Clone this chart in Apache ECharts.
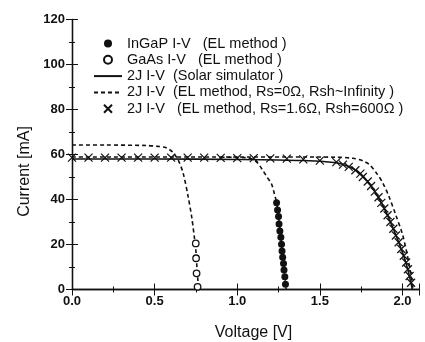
<!DOCTYPE html>
<html>
<head>
<meta charset="utf-8">
<script src="https://cdn.jsdelivr.net/npm/echarts@6/dist/echarts.min.js"></script>
<style>
html, body { margin: 0; padding: 0; background: #fff; }
#chart { width: 425px; height: 342px; }
</style>
</head>
<body>
<div id="chart"></div>
<script>
// InGaP subcell I-V from EL (filled dots)
var ingapV = [1.238, 1.244, 1.250, 1.253, 1.258, 1.264, 1.268, 1.271, 1.275, 1.280, 1.283, 1.288, 1.292];
var ingapI = [38.6, 35.3, 32.4, 29.1, 26.0, 23.2, 20.1, 17.1, 14.3, 11.6, 8.7, 5.7, 2.3];

// GaAs subcell I-V from EL (open circles)
var gaasV = [0.749, 0.751, 0.754, 0.760];
var gaasI = [20.5, 13.9, 7.2, 1.2];

// dashed subcell curves
var gaasElV = [0, 0.2, 0.45, 0.52, 0.57, 0.61, 0.643, 0.673, 0.703, 0.724, 0.74, 0.75, 0.756, 0.762, 0.768];
var gaasElI = [64.2, 64.2, 64.0, 63.6, 63.0, 61.0, 57.5, 51.6, 41.2, 32.4, 23.5, 17.0, 10.0, 4.0, 0];
var ingapElV = [0.9, 1.05, 1.09, 1.12, 1.15, 1.18, 1.207, 1.225, 1.238, 1.250, 1.264, 1.275, 1.288, 1.296];
var ingapElI = [58.8, 58.6, 58.0, 56.5, 53.5, 50.0, 47.0, 42.5, 38.6, 32.4, 23.2, 14.3, 5.7, 0];

// 2J solar simulator (solid)
var solidV = [0, 0.5, 1.0, 1.4, 1.6, 1.65, 1.7, 1.75, 1.8, 1.85, 1.9, 1.95, 2.0, 2.03, 2.06];
var solidI = [58.0, 58.0, 57.8, 57.3, 56.3, 55.3, 53.8, 51.2, 47.0, 41.5, 34.5, 26.0, 16.5, 9.5, 0];

// 2J EL, Rs=0, Rsh~inf (dashed)
var elV = [0, 1.0, 1.3, 1.6, 1.7, 1.76, 1.8, 1.84, 1.88, 1.92, 1.96, 2.0, 2.03, 2.05, 2.065];
var elI = [58.9, 58.9, 58.9, 58.8, 58.3, 57.2, 55.5, 52.0, 47.5, 41.0, 33.0, 24.5, 15.0, 7.0, 0];

// 2J EL, Rs=1.6, Rsh=600 (crosses)
var fitV = [0, 0.1, 0.2, 0.3, 0.4, 0.5, 0.6, 0.7, 0.8, 0.9, 1.0, 1.1, 1.2, 1.3, 1.4, 1.5, 1.6,
    1.64, 1.675, 1.715, 1.745, 1.76, 1.79, 1.81, 1.833, 1.855, 1.872, 1.89, 1.91, 1.927, 1.945,
    1.96, 1.977, 1.993, 2.008, 2.022, 2.033, 2.043, 2.052];
var fitI = [58.6, 58.6, 58.6, 58.6, 58.6, 58.6, 58.6, 58.6, 58.6, 58.5, 58.4, 58.4, 58.3, 58.2, 57.8, 57.3, 56.6,
    55.5, 54.5, 53.0, 51.5, 50.0, 48.0, 46.0, 43.5, 41.0, 38.5, 36.0, 33.0, 30.0, 27.0,
    24.0, 21.0, 18.0, 15.0, 12.0, 9.0, 6.0, 3.0];

var names = [
    'InGaP I-V   (EL method )',
    'GaAs I-V   (EL method )',
    '2J I-V  (Solar simulator )',
    '2J I-V  (EL method, Rs=0\u03a9, Rsh~Infinity )',
    '2J I-V   (EL method, Rs=1.6\u03a9, Rsh=600\u03a9 )'
];

var zip = function (xs, ys) {
    var out = [];
    for (var i = 0; i < xs.length; i++) {
        out.push([xs[i], ys[i]]);
    }
    return out;
};

var ink = '#111';
var crossPath = 'path://M0,0L10,10M10,0L0,10';
var dashed = { color: ink, width: 1.6, type: [4, 3] };
// line series: keep the legend icon a bare line
var noDot = { color: 'transparent', borderWidth: 0 };

var chart = echarts.init(document.getElementById('chart'));
var option = {
    backgroundColor: '#fff',
    animation: false,
    textStyle: { fontFamily: 'Liberation Sans, Arial, sans-serif', color: ink },
    grid: { left: 72, right: 6, top: 19.5, bottom: 52.5, outerBoundsMode: 'none', containLabel: false },
    legend: {
        orient: 'vertical',
        left: 93,
        top: 36,
        padding: 0,
        itemWidth: 28,
        itemHeight: 8,
        itemGap: 1.3,
        data: names,
        textStyle: { fontSize: 14.5, color: ink, lineHeight: 14 }
    },
    xAxis: [{
        type: 'value',
        min: 0, max: 2.1, interval: 0.5,
        name: 'Voltage [V]',
        nameLocation: 'middle',
        nameGap: 35,
        nameTextStyle: { fontSize: 16, color: ink, padding: [0, 0, 0, 16] },
        axisLine: { lineStyle: { color: ink, width: 1.3 } },
        axisTick: { inside: true, length: 6, lineStyle: { color: ink } },
        minorTick: { show: true, splitNumber: 2, length: 3, lineStyle: { color: ink } },
        splitLine: { show: false },
        axisLabel: {
            margin: 5, fontSize: 13, fontWeight: 'bold', color: ink, showMaxLabel: false,
            formatter: function (v) { return v.toFixed(1); }
        }
    }, {
        type: 'value',
        position: 'top',
        min: 0, max: 2.1, interval: 0.5,
        axisLine: { lineStyle: { color: ink, width: 1.3 } },
        axisTick: { inside: true, length: 6, lineStyle: { color: ink } },
        minorTick: { show: true, splitNumber: 2, length: 3, lineStyle: { color: ink } },
        splitLine: { show: false },
        axisLabel: { show: false }
    }],
    yAxis: [{
        type: 'value',
        min: 0, max: 120, interval: 20,
        name: 'Current [mA]',
        nameLocation: 'middle',
        nameGap: 39,
        nameTextStyle: { fontSize: 16, color: ink, padding: [0, 34, 0, 0] },
        axisLine: { show: true, lineStyle: { color: ink, width: 1.3 } },
        axisTick: { show: true, inside: true, length: 6, lineStyle: { color: ink } },
        minorTick: { show: true, splitNumber: 2, length: 3, lineStyle: { color: ink } },
        splitLine: { show: false },
        axisLabel: { margin: 7, fontSize: 13, fontWeight: 'bold', color: ink }
    }, {
        type: 'value',
        position: 'right',
        min: 0, max: 120, interval: 20,
        axisLine: { show: true, lineStyle: { color: ink, width: 1.3 } },
        axisTick: { show: true, inside: true, length: 6, lineStyle: { color: ink } },
        minorTick: { show: true, splitNumber: 2, length: 3, lineStyle: { color: ink } },
        splitLine: { show: false },
        axisLabel: { show: false }
    }],
    series: [{
        name: 'gaasEl',
        type: 'line',
        smooth: 0.3,
        symbol: 'none',
        lineStyle: dashed,
        data: zip(gaasElV, gaasElI)
    }, {
        name: 'ingapEl',
        type: 'line',
        smooth: 0.3,
        symbol: 'none',
        lineStyle: dashed,
        data: zip(ingapElV, ingapElI)
    }, {
        name: names[2],
        type: 'line',
        smooth: 0.3,
        symbol: 'circle',
        showSymbol: false,
        itemStyle: noDot,
        lineStyle: { color: ink, width: 1.6 },
        data: zip(solidV, solidI)
    }, {
        name: names[3],
        type: 'line',
        smooth: 0.3,
        symbol: 'circle',
        showSymbol: false,
        itemStyle: noDot,
        lineStyle: dashed,
        data: zip(elV, elI)
    }, {
        name: names[0],
        type: 'scatter',
        symbol: 'circle',
        symbolSize: 7,
        itemStyle: { color: ink, opacity: 1 },
        data: zip(ingapV, ingapI),
        z: 5
    }, {
        name: names[1],
        type: 'scatter',
        symbol: 'circle',
        symbolSize: 6.5,
        itemStyle: { color: '#fff', borderColor: ink, borderWidth: 1.3, opacity: 1 },
        data: zip(gaasV, gaasI),
        z: 5
    }, {
        name: names[4],
        type: 'scatter',
        symbol: crossPath,
        symbolSize: 8,
        itemStyle: { color: 'none', borderColor: ink, borderWidth: 1.2, opacity: 1 },
        data: zip(fitV, fitI),
        z: 5
    }]
};
chart.setOption(option);
</script>
</body>
</html>
